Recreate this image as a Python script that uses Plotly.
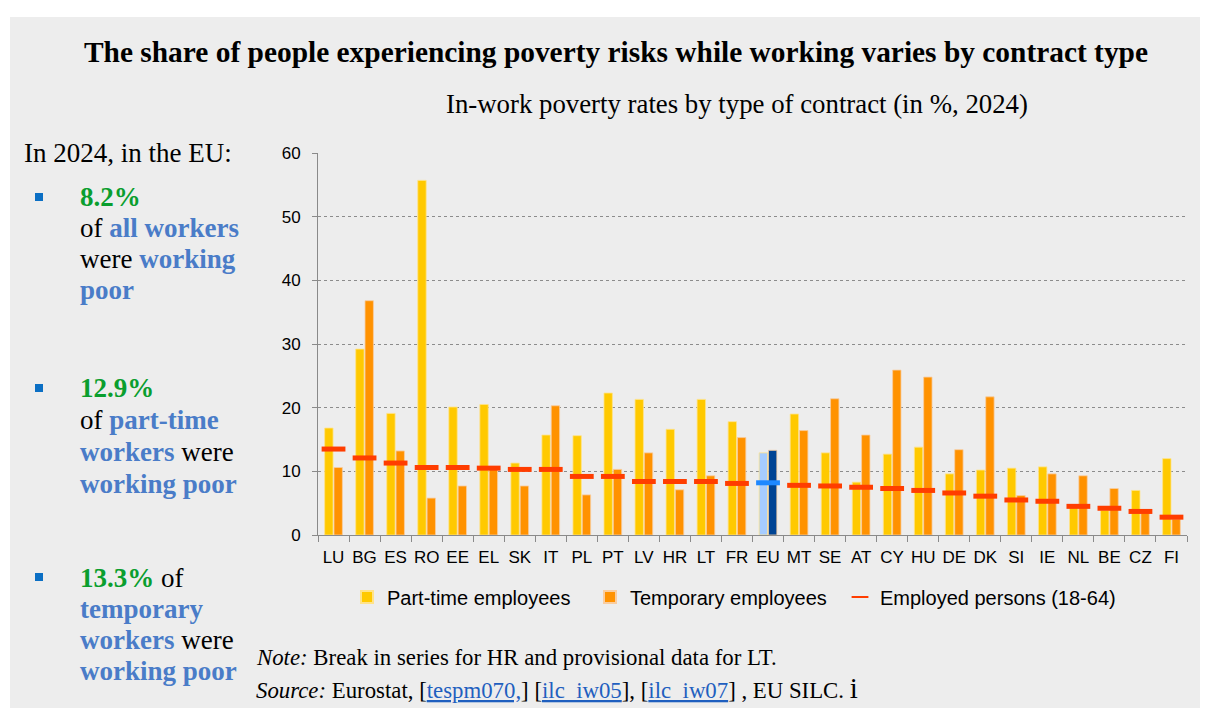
import plotly.graph_objects as go

countries = ["LU","BG","ES","RO","EE","EL","SK","IT","PL","PT","LV","HR","LT","FR","EU",
             "MT","SE","AT","CY","HU","DE","DK","SI","IE","NL","BE","CZ","FI"]
part_time = [16.8,29.2,19.1,55.7,20.1,20.5,11.3,15.7,15.6,22.3,21.3,16.6,21.3,17.8,12.9,
             19.0,12.9,8.3,12.7,13.8,9.6,10.2,10.5,10.7,4.3,3.9,7.0,12.0]
temporary = [10.6,36.8,13.2,5.8,7.7,10.3,7.7,20.3,6.3,10.3,12.9,7.1,9.3,15.3,13.3,
             16.4,21.4,15.7,25.9,24.8,13.4,21.7,6.2,9.6,9.3,7.3,3.5,2.5]
employed = [13.5,12.1,11.3,10.6,10.6,10.5,10.3,10.3,9.2,9.2,8.4,8.4,8.4,8.1,8.2,
            7.8,7.7,7.5,7.3,7.0,6.6,6.1,5.5,5.3,4.5,4.2,3.7,2.8]
y_ticks = [0, 10, 20, 30, 40, 50, 60]

# page has an 8px body margin: figure coords = screen coords - 8
OFF = 8
W, H = 1200, 700
L, R, T, B = 318, 1187, 153, 535   # plot area in screen pixels

def px(x):
    return (x - L) / (R - L)

def py(y):
    return (B - y) / (B - T)

YEL, ORA, RED = "#FFC900", "#FF9200", "#FF3D00"
pt_colors = ["#A6CCFF" if c == "EU" else YEL for c in countries]
tp_colors = ["#004494" if c == "EU" else ORA for c in countries]
em_colors = ["#1E88FF" if c == "EU" else RED for c in countries]

fig = go.Figure()
fig.add_trace(go.Bar(x=countries, y=part_time, name="Part-time employees", legend="legend",
                     marker=dict(color=pt_colors, line=dict(color="#FFE38A", width=0.8))))
fig.add_trace(go.Bar(x=countries, y=temporary, name="Temporary employees", legend="legend2",
                     marker=dict(color=tp_colors, line=dict(color="#F9CDA0", width=0.8))))
fig.add_trace(go.Scatter(x=countries, y=employed, name="Employed persons (18-64)", mode="markers",
                         legend="legend3",
                         marker=dict(symbol="line-ew", size=17,
                                     line=dict(color=em_colors, width=5))))

SERIF = "Liberation Serif"
SANS = "Liberation Sans"
GREEN = "#0A9E2E"
BLUE = "#4A7CC8"

annotations = []
def ann(x, y, text, size, xanchor="left", family=SERIF, color="black"):
    annotations.append(dict(xref="paper", yref="paper", x=px(x), y=py(y), text=text,
                            showarrow=False, xanchor=xanchor, yanchor="middle",
                            font=dict(family=family, size=size, color=color)))

ann(616, 52, "<b>The share of people experiencing poverty risks while working varies by contract type</b>", 29.4, "center")
ann(737, 104, "In-work poverty rates by type of contract (in %, 2024)", 26.8, "center")
ann(22, 153, "In 2024, in the EU:", 27)

def b(t):
    return f"<b><span style='color:{BLUE}'>{t}</span></b>"
def g(t):
    return f"<b><span style='color:{GREEN}'>{t}</span></b>"

left_lines = [
    (197, g("8.2%")), (228, "of " + b("all workers")), (259, "were " + b("working")), (290, b("poor")),
    (388, g("12.9%")), (420, "of " + b("part-time")), (452, b("workers") + " were"), (484, b("working poor")),
    (578, g("13.3%") + " of"), (609, b("temporary")), (640, b("workers") + " were"), (671, b("working poor")),
]
for yy, t in left_lines:
    ann(78, yy, t, 27)

ann(254, 657, "<i>Note:</i> Break in series for HR and provisional data for LT.", 22.8)
link = "#1F5FBF"
def lk(t):
    return f"<span style='color:{link}'><u>{t}</u></span>"
ann(254, 688, "<i>Source:</i> Eurostat, [" + lk("tespm070,") + "] [" + lk("ilc_iw05") + "], ["
    + lk("ilc_iw07") + "] , EU SILC. <span style='font-size:29px'>i</span>", 22.8)

shapes = [
    dict(type="rect", xref="paper", yref="paper", x0=px(0), x1=px(1300), y0=py(0), y1=py(17),
         fillcolor="white", line=dict(width=0), layer="below"),
    dict(type="rect", xref="paper", yref="paper", x0=px(0), x1=px(10), y0=py(0), y1=py(800),
         fillcolor="white", line=dict(width=0), layer="below"),
]
for yy in (197, 388, 577):
    shapes.append(dict(type="rect", xref="paper", yref="paper", x0=px(35), x1=px(43),
                       y0=py(yy - 4), y1=py(yy + 4), fillcolor="#0B6FC4", line=dict(width=0)))

def leg(text_start):
    return dict(orientation="h", x=px(text_start - 40), y=py(597), xanchor="left", yanchor="middle",
                font=dict(family=SANS, size=20, color="black"), bgcolor="rgba(0,0,0,0)",
                itemsizing="constant")

fig.update_layout(
    width=W, height=H,
    margin=dict(l=L - OFF, r=W - (R - OFF), t=T - OFF, b=H - (B - OFF), pad=0, autoexpand=False),
    paper_bgcolor="#EDEDED", plot_bgcolor="#EDEDED",
    barmode="group", bargap=0.4, bargroupgap=0.1,
    font=dict(family=SANS, color="black"),
    showlegend=True,
    legend=leg(387), legend2=leg(630), legend3=leg(880),
    annotations=annotations, shapes=shapes,
)
fig.update_xaxes(type="category", range=[-0.5, len(countries) - 0.5], showline=True,
                 linecolor="#8A8A8A", linewidth=1, tickangle=0,
                 ticks="outside", tickson="boundaries", ticklen=6, tickcolor="#8A8A8A",
                 tickfont=dict(family=SANS, size=17, color="black"), showgrid=False,
                 ticklabelstandoff=7, fixedrange=True)
fig.update_yaxes(range=[0, 60], tickvals=y_ticks, showline=True, linecolor="#8A8A8A", linewidth=1,
                 ticks="outside", ticklen=5, tickcolor="#8A8A8A",
                 showgrid=True, gridcolor="#8C8C8C", griddash="dot", gridwidth=1,
                 zeroline=False, tickfont=dict(family=SANS, size=17, color="black"),
                 ticklabelstandoff=8)

fig.write_html("out.html")
